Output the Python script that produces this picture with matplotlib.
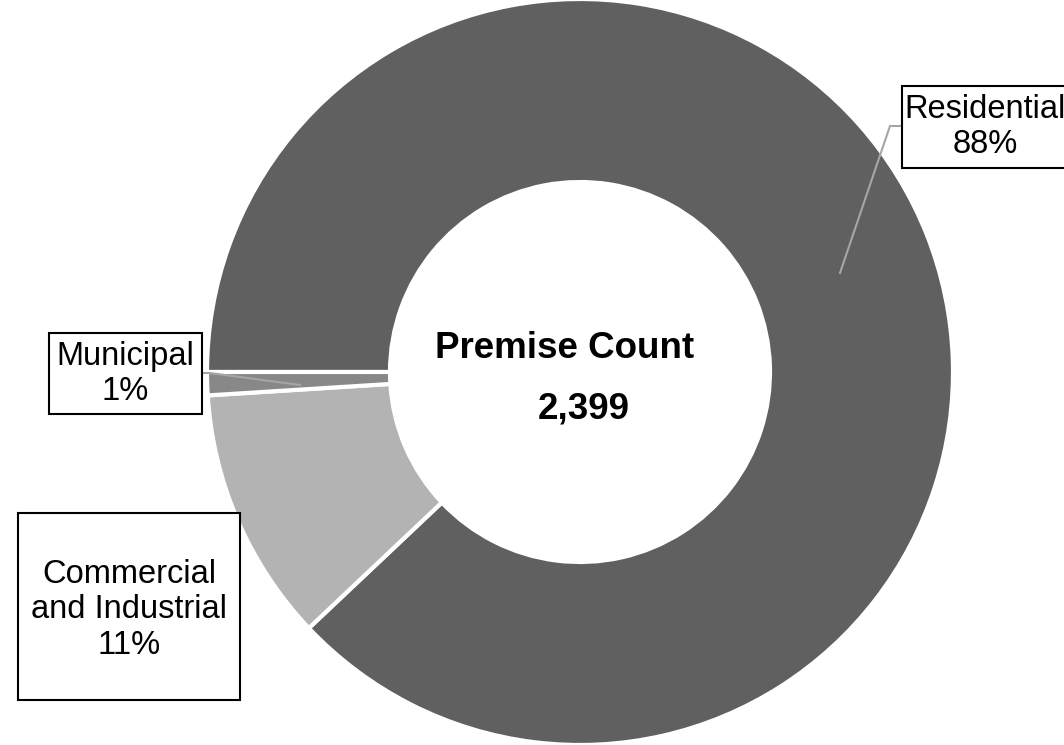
import matplotlib.pyplot as plt
from matplotlib.patches import Rectangle

plt.rcParams['font.family'] = ['Liberation Sans', 'DejaVu Sans']

# Data
categories = ["Residential", "Commercial\nand Industrial", "Municipal"]
counts = [2110, 265, 24]
colors = ["#606060", "#b3b3b3", "#888888"]
total = sum(counts)

W, H = 1064, 745
fig = plt.figure(figsize=(W / 100, H / 100), dpi=100)
ax = fig.add_axes([0, 0, 1, 1])

cx, cy = 580, H - 372
r_out, r_in = 373, 190

wedges, _ = ax.pie(counts, colors=colors, startangle=180, counterclock=False,
                   radius=r_out, center=(cx, cy), frame=True,
                   wedgeprops=dict(width=r_out - r_in, edgecolor="white", linewidth=3))
ax.set_xlim(0, W)
ax.set_ylim(0, H)
ax.set_aspect("equal")
ax.axis("off")

# Centre text
ax.text(565, H - 349, "Premise Count", ha="center", va="center",
        fontsize=26.5, fontweight="bold")
ax.text(584, H - 409, f"{total:,}", ha="center", va="center",
        fontsize=26.5, fontweight="bold")

fs = 23.5
# label boxes: (x0, y0_top, width, height, text x, text y) in pixels from top-left
boxes = {
    "Residential": (902, 86, 200, 82, 985, 127),
    "Municipal": (49, 333, 153, 81, 125, 374),
    "Commercial\nand Industrial": (18, 513, 222, 187, 129, 610),
}
for name, cnt in zip(categories, counts):
    x0, y0, bw, bh, tx, ty = boxes[name]
    ax.add_patch(Rectangle((x0, H - y0 - bh), bw, bh, facecolor="white",
                           edgecolor="black", linewidth=1.5, zorder=3))
    pct = f"{round(cnt / total * 100):.0f}%"
    ax.text(tx, H - ty, f"{name}\n{pct}", ha="center", va="center",
            fontsize=fs, linespacing=1.2, zorder=4, multialignment="center")

# leader lines
ax.plot([840, 890, 902], [H - 273, H - 126, H - 126], color="#a6a6a6", lw=1.5, zorder=2)
ax.plot([300, 210, 202], [H - 385, H - 373, H - 373], color="#a6a6a6", lw=1.5, zorder=2)

fig.savefig("out.png", dpi=100)
